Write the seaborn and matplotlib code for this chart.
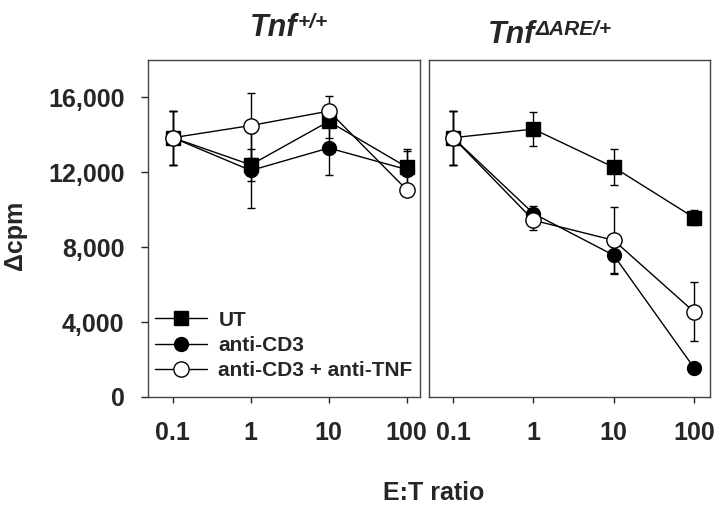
import matplotlib
matplotlib.use('Agg')
import matplotlib.pyplot as plt
import matplotlib.ticker as mticker
import seaborn as sns

# E:T ratios
ratios = [0.1, 1, 10, 100]
tick_labels = ['0.1', '1', '10', '100']
series = ['UT', 'anti-CD3', 'anti-CD3 + anti-TNF']

# Tnf +/+ (left panel): means and error bars (delta cpm)
wt_ut = [13850, 12400, 14720, 12280]
wt_ut_err = [1450, 850, 870, 950]
wt_cd3 = [13850, 12100, 13300, 12150]
wt_cd3_err = [1450, 2000, 1440, 1000]
wt_tnf = [13850, 14500, 15270, 11070]
wt_tnf_err = [1450, 1730, 800, 300]

# Tnf dARE/+ (right panel)
are_ut = [13850, 14310, 12270, 9580]
are_ut_err = [1450, 920, 960, 400]
are_cd3 = [13850, 9800, 7570, 1560]
are_cd3_err = [1450, 400, 940, 200]
are_tnf = [13850, 9440, 8370, 4550]
are_tnf_err = [1450, 500, 1780, 1570]

yticks = [0, 4000, 8000, 12000, 16000]

sns.set_style('ticks')
plt.rcParams['font.family'] = ['Liberation Sans', 'DejaVu Sans']
plt.rcParams['font.weight'] = 'bold'

fig = plt.figure(figsize=(7.2, 5.12), dpi=100)
W, H = 720, 512
bottom, top = 397, 60
ax1 = fig.add_axes([148 / W, (H - bottom) / H, (420 - 148) / W, (bottom - top) / H])
ax2 = fig.add_axes([429 / W, (H - bottom) / H, (710 - 429) / W, (bottom - top) / H])

styles = [
    dict(marker='s', markerfacecolor='black', ms=10),
    dict(marker='o', markerfacecolor='black', ms=10),
    dict(marker='o', markerfacecolor='white', ms=11),
]


def draw_panel(ax, means, errs, xlim, legend):
    for name, y, e, st in zip(series, means, errs, styles):
        ax.errorbar(ratios, y, yerr=e, fmt='none', ecolor='black', elinewidth=1,
                    capsize=3, capthick=1, zorder=2)
        sns.lineplot(x=ratios, y=y, ax=ax, color='black', linewidth=1,
                     markeredgecolor='black', markeredgewidth=1,
                     label=name if legend else None, legend=legend, zorder=3, **st)
    ax.set_xscale('log')
    ax.set_xlim(*xlim)
    ax.set_ylim(0, 18000)
    ax.xaxis.set_major_locator(mticker.FixedLocator(ratios))
    ax.xaxis.set_major_formatter(mticker.FixedFormatter(tick_labels))
    ax.xaxis.set_minor_locator(mticker.NullLocator())
    ax.tick_params(axis='x', direction='out', length=4, width=1, pad=13,
                   labelsize=18)
    ax.set_xlabel('')
    ax.set_ylabel('')
    for sp in ax.spines.values():
        sp.set_visible(True)
        sp.set_color('#444444')
        sp.set_linewidth(1)


draw_panel(ax1, [wt_ut, wt_cd3, wt_tnf], [wt_ut_err, wt_cd3_err, wt_tnf_err],
           (0.048, 148), True)
draw_panel(ax2, [are_ut, are_cd3, are_tnf], [are_ut_err, are_cd3_err, are_tnf_err],
           (0.05, 158), False)

ax1.set_yticks(yticks)
ax1.set_yticklabels([f'{v:,}' for v in yticks])
ax1.tick_params(axis='y', direction='out', length=5, width=1, pad=12, labelsize=18)
ax2.set_yticks([])

ax1.legend(loc='lower left', bbox_to_anchor=(0.025, 0.05), frameon=False,
           fontsize=15, handlelength=2.5, handletextpad=0.55, labelspacing=0.3,
           borderaxespad=0, borderpad=0)


def panel_title(ax, x, y, sup):
    t = fig.text(x, y, 'Tnf', fontsize=22, fontweight='bold', fontstyle='italic',
                 ha='left', va='baseline')
    ax.annotate(sup, xy=(1, 1), xycoords=t, xytext=(0.5, 0),
                textcoords='offset points', ha='left', va='top', fontsize=15,
                fontweight='bold', fontstyle='italic', annotation_clip=False)


panel_title(ax1, 250 / W, 1 - 36 / H, '+/+')
panel_title(ax2, 488 / W, 1 - 43 / H, 'ΔARE/+')

fig.text(15 / W, 1 - 235 / H, 'Δcpm', ha='center', va='center', fontsize=18,
         fontweight='bold', rotation=90)
fig.text(434 / W, 1 - 493 / H, 'E:T ratio', ha='center', va='center',
         fontsize=18, fontweight='bold')

fig.savefig('out.png', dpi=100)
